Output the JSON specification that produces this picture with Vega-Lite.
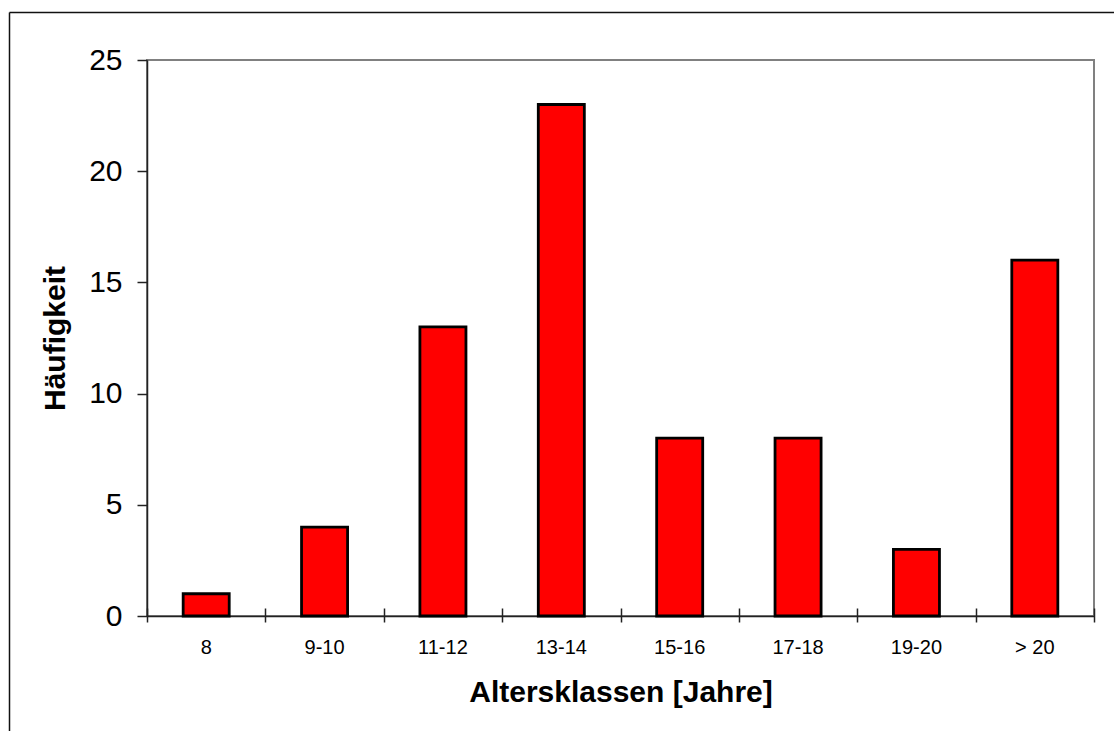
{
  "$schema": "https://vega.github.io/schema/vega-lite/v6.json",
  "autosize": {"type": "none"},
  "width": 947,
  "height": 556,
  "padding": {"left": 147, "top": 60, "right": 20, "bottom": 115},
  "background": "white",
  "config": {
    "font": "Liberation Sans",
    "view": {"stroke": "#808080", "strokeWidth": 2},
    "axis": {"grid": false, "labelColor": "#000", "titleColor": "#000"}
  },
  "data": {
    "values": [
      {"Klasse": "8", "n": 1},
      {"Klasse": "9-10", "n": 4},
      {"Klasse": "11-12", "n": 13},
      {"Klasse": "13-14", "n": 23},
      {"Klasse": "15-16", "n": 8},
      {"Klasse": "17-18", "n": 8},
      {"Klasse": "19-20", "n": 3},
      {"Klasse": "> 20", "n": 16}
    ]
  },
  "resolve": {
    "scale": {"x": "independent", "y": "independent"},
    "axis": {"x": "independent", "y": "independent"}
  },
  "layer": [
    {
      "mark": {"type": "bar", "fill": "#FF0000", "stroke": "#000", "strokeWidth": 2.8},
      "encoding": {
        "x": {
          "field": "Klasse",
          "type": "nominal",
          "sort": null,
          "scale": {"paddingInner": 0.611, "paddingOuter": 0.3055},
          "axis": {
            "orient": "bottom",
            "title": "Altersklassen [Jahre]",
            "titleFontSize": 30,
            "titleFontWeight": "bold",
            "titlePadding": 20,
            "labelFontSize": 20,
            "labelAngle": 0,
            "labelPadding": 21,
            "ticks": false,
            "tickSize": 0,
            "domainColor": "#222",
            "domainWidth": 1.5
          }
        },
        "y": {
          "field": "n",
          "type": "quantitative",
          "scale": {"domain": [0, 25], "nice": false},
          "axis": {
            "orient": "left",
            "values": [0, 5, 10, 15, 20, 25],
            "title": "Häufigkeit",
            "titleFontSize": 30,
            "titleFontWeight": "bold",
            "titlePadding": 18,
            "labelFontSize": 30,
            "labelPadding": 15,
            "tickSize": 10,
            "tickColor": "#222",
            "tickWidth": 1.5,
            "domainColor": "#222",
            "domainWidth": 1.5
          }
        }
      }
    },
    {
      "mark": {"type": "point", "opacity": 0},
      "encoding": {
        "x": {
          "field": "Klasse",
          "type": "nominal",
          "sort": null,
          "scale": {"type": "band", "paddingInner": 0, "paddingOuter": 0},
          "axis": {
            "orient": "bottom",
            "offset": -8,
            "tickBand": "extent",
            "tickSize": 14,
            "tickColor": "#222",
            "tickWidth": 1.5,
            "domain": false,
            "labels": false,
            "title": null
          }
        }
      }
    },
    {
      "mark": {"type": "point", "opacity": 0},
      "encoding": {
        "x": {
          "field": "n",
          "type": "quantitative",
          "scale": {"domain": [0, 25], "nice": false, "range": [-138, 967]},
          "axis": {
            "orient": "top",
            "offset": 48,
            "ticks": false,
            "labels": false,
            "title": null,
            "domainColor": "#111",
            "domainWidth": 1.5
          }
        },
        "y": {
          "field": "n",
          "type": "quantitative",
          "scale": {"domain": [0, 25], "nice": false, "range": [671, -48]},
          "axis": {
            "orient": "left",
            "offset": 138,
            "ticks": false,
            "labels": false,
            "title": null,
            "domainColor": "#111",
            "domainWidth": 1.5
          }
        }
      }
    }
  ]
}
